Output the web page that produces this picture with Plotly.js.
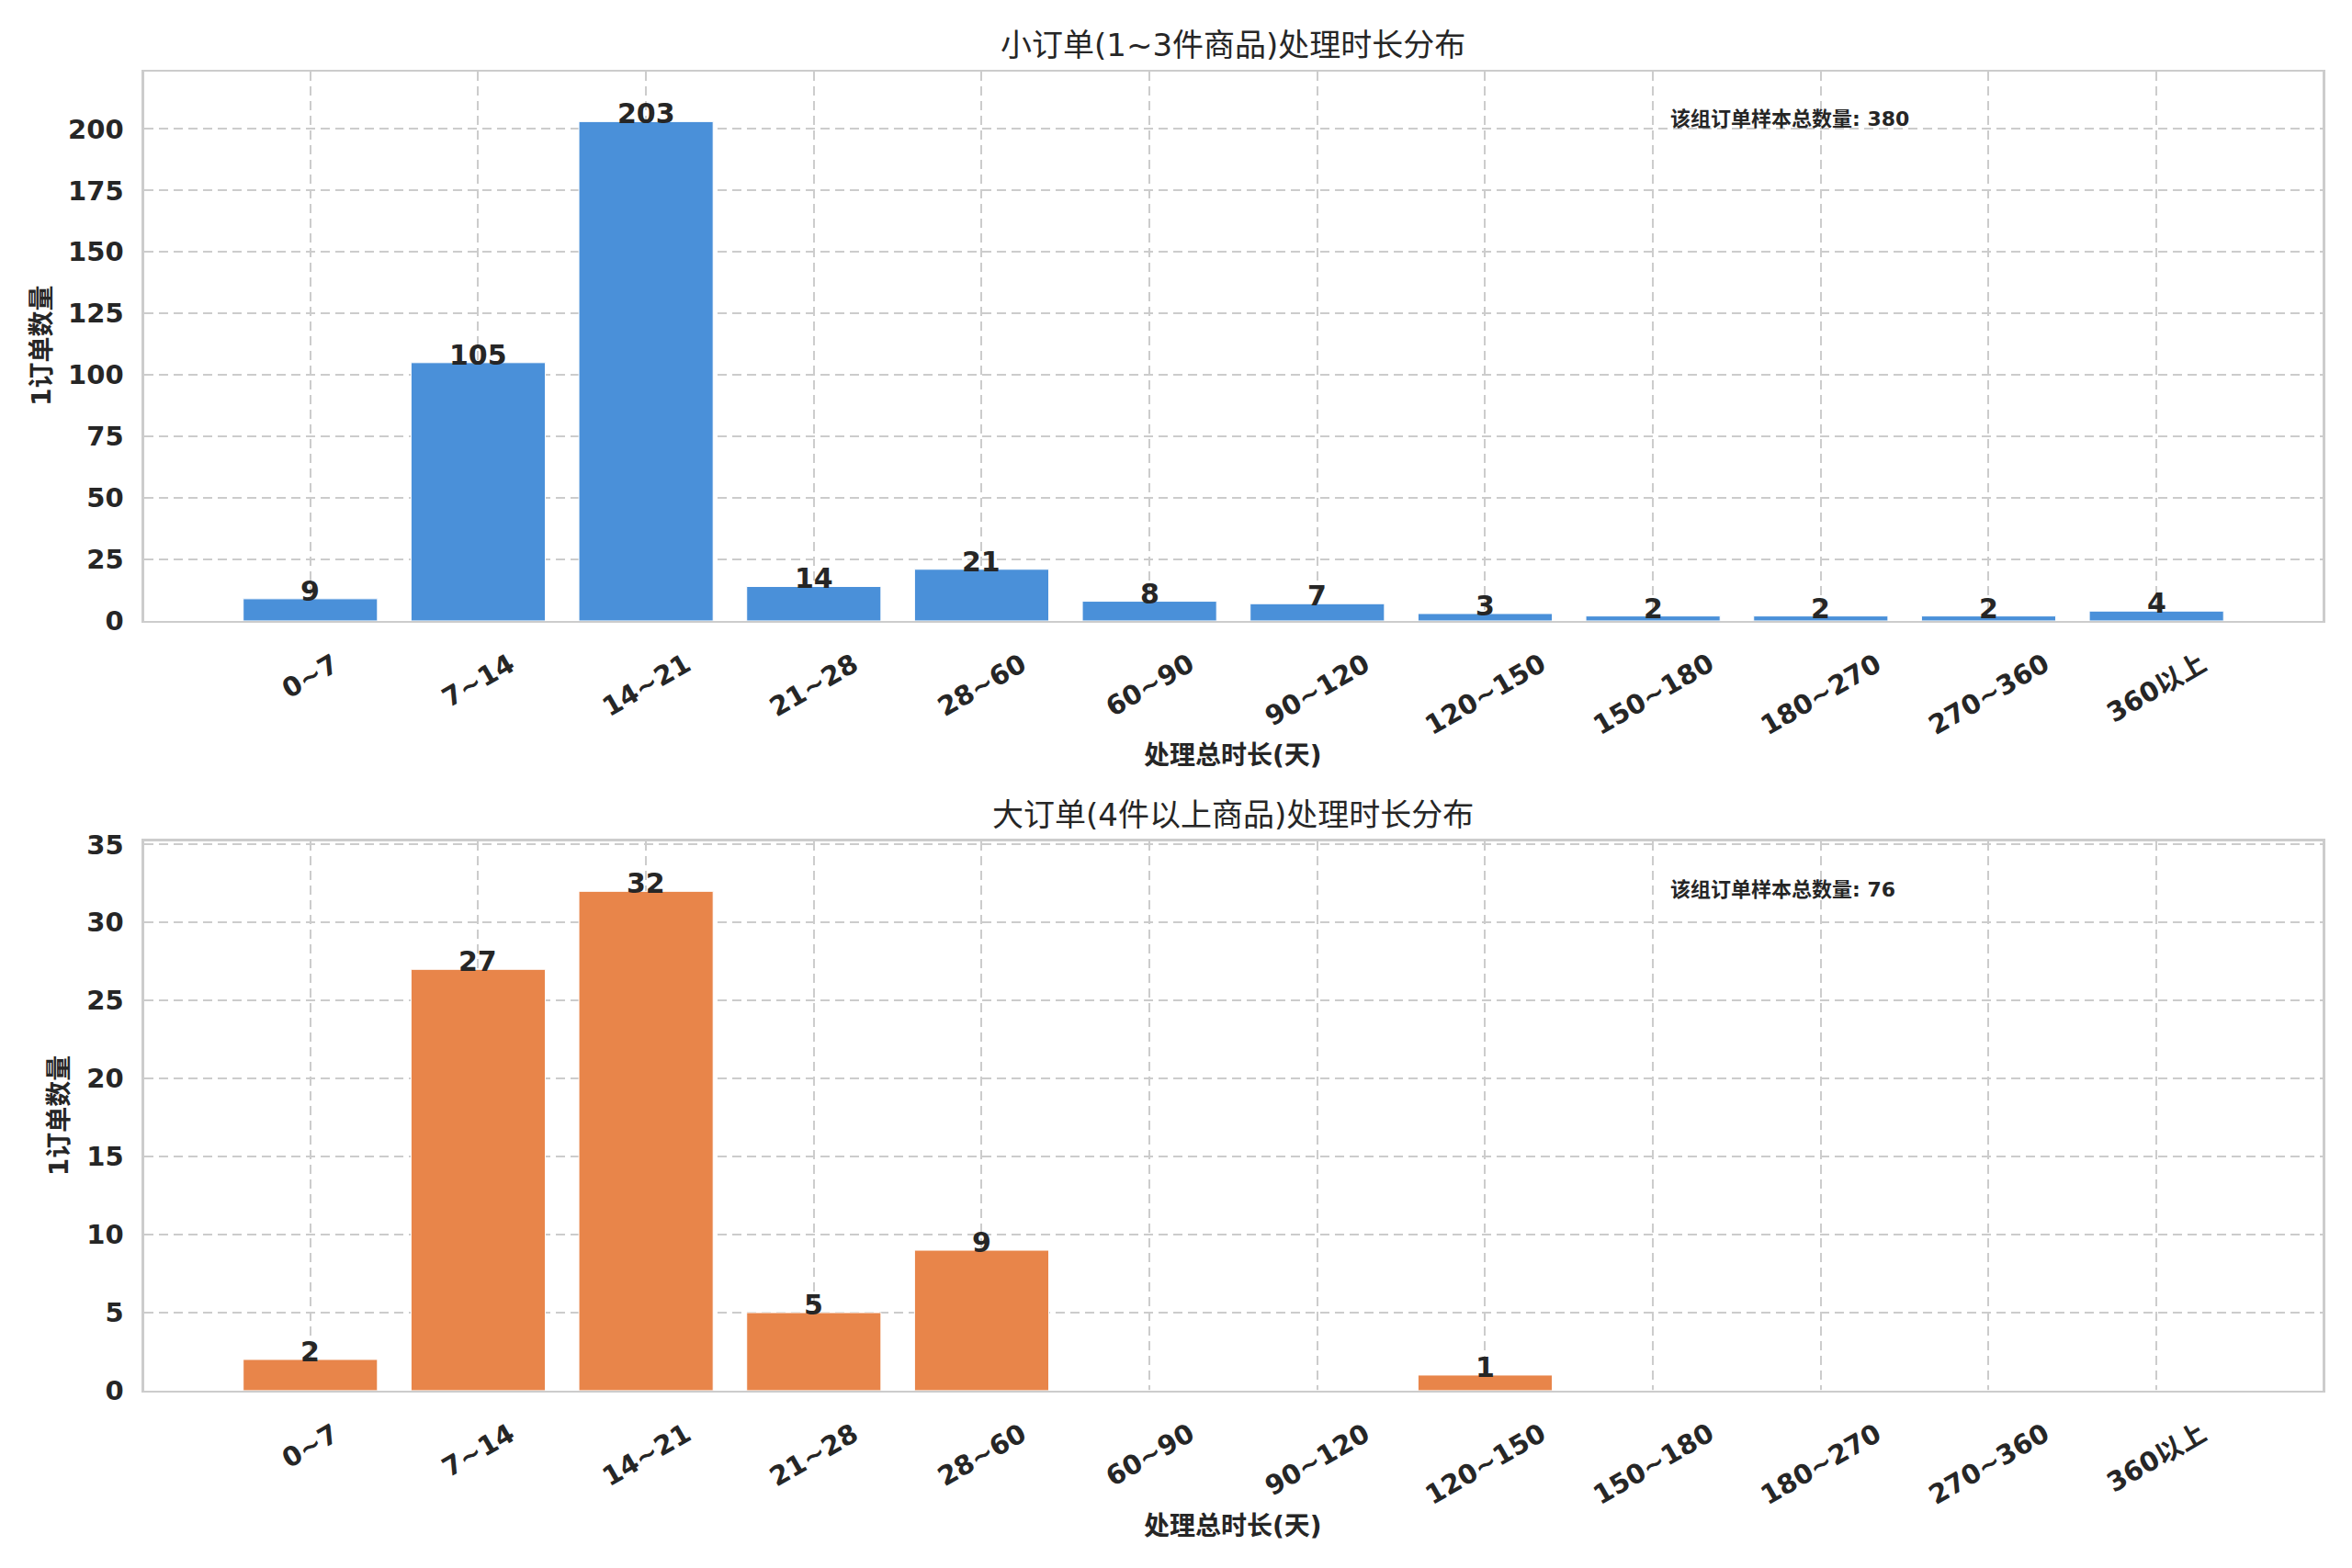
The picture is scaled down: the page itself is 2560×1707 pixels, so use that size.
<!DOCTYPE html>
<html>
<head>
<meta charset="utf-8">
<script src="https://cdn.plot.ly/plotly-3.0.1.min.js"></script>
<style>html,body{margin:0;padding:0;background:#fff;}#chart{width:2560px;height:1707px;}</style>
</head>
<body>
<div id="chart"></div>
<script>
const categories = ['0~7','7~14','14~21','21~28','28~60','60~90','90~120','120~150','150~180','180~270','270~360','360以上'];
const smallCounts = [9,105,203,14,21,8,7,3,2,2,2,4];
const largeCounts = [2,27,32,5,9,0,0,1,0,0,0,0];
const titleSmall = '小订单(1~3件商品)处理时长分布';
const titleLarge = '大订单(4件以上商品)处理时长分布';
const xLabel = '处理总时长(天)';
const yLabel = '1订单数量';
const totalLabel = '该组订单样本总数量';

const FONT = 'DejaVu Sans, Noto Sans CJK SC, sans-serif';
const TXT = '#262626';
const GRID = '#cccccc';
const sum = a => a.reduce((s, v) => s + v, 0);

const dom1 = [0.6040, 0.9543];
const dom2 = [0.1131, 0.4634];

function bar(vals, color, xa, ya) {
  return {
    type: 'bar', x: categories, y: vals, xaxis: xa, yaxis: ya,
    width: 0.8,
    marker: {color: color, line: {color: '#ffffff', width: 1}},
    hoverinfo: 'x+y', showlegend: false
  };
}

const data = [
  bar(smallCounts, '#4a90d9', 'x', 'y'),
  bar(largeCounts, '#e8854a', 'x2', 'y2')
];

function xax(anchor) {
  return {
    domain: [0.0613, 0.9875], anchor: anchor, type: 'category',
    range: [-0.99, 11.99], showticklabels: false, ticks: '',
    showgrid: true, gridcolor: GRID, gridwidth: 2, griddash: '10px,6px',
    showline: true, linecolor: GRID, linewidth: 2.5, mirror: true, zeroline: false,
    fixedrange: true
  };
}
function yax(anchor, dom, top, dtick) {
  return {
    domain: dom, anchor: anchor, range: [0, top], dtick: dtick, tick0: 0,
    showgrid: true, gridcolor: GRID, gridwidth: 2, griddash: '10px,6px',
    showline: true, linecolor: GRID, linewidth: 2.5, mirror: true, zeroline: false,
    ticks: '', ticklabelstandoff: 14,
    tickfont: {family: FONT, size: 29, color: TXT, weight: 'bold'},
    fixedrange: true
  };
}

const annotations = [];
function addTicks(xref, yBottom) {
  categories.forEach(c => {
    annotations.push({
      xref: xref, yref: 'paper', x: c, y: yBottom, yanchor: 'top', xanchor: 'center',
      yshift: -26, textangle: -30, showarrow: false, text: c,
      font: {family: FONT, size: 29, color: TXT, weight: 'bold'}
    });
  });
}
addTicks('x', dom1[0]);
addTicks('x2', dom2[0]);

function addValues(vals, xref, yref) {
  vals.forEach((v, i) => {
    if (v <= 0) return;
    annotations.push({
      xref: xref, yref: yref, x: categories[i], y: v, xanchor: 'center', yanchor: 'bottom',
      yshift: -11, showarrow: false, text: String(v),
      font: {family: FONT, size: 30, color: TXT, weight: 'bold'}
    });
  });
}
addValues(smallCounts, 'x', 'y');
addValues(largeCounts, 'x2', 'y2');

[[titleSmall, 0.9713], [titleLarge, 0.4804]].forEach(([t, y]) => {
  annotations.push({xref: 'paper', yref: 'paper', x: 0.5244, y: y, xanchor: 'center', yanchor: 'middle',
    showarrow: false, text: t, font: {family: FONT, size: 34, color: TXT}});
});
[0.5179, 0.0269].forEach(y => {
  annotations.push({xref: 'paper', yref: 'paper', x: 0.5244, y: y, xanchor: 'center', yanchor: 'middle',
    showarrow: false, text: xLabel, font: {family: FONT, size: 28, color: TXT, weight: 'bold'}});
});
[(dom1[0] + dom1[1]) / 2, (dom2[0] + dom2[1]) / 2].forEach((y, i) => {
  annotations.push({xref: 'paper', yref: 'paper', x: i === 0 ? 0.018 : 0.0255, y: y, xanchor: 'center', yanchor: 'middle',
    textangle: -90, showarrow: false, text: yLabel, font: {family: FONT, size: 28, color: TXT, weight: 'bold'}});
});
[[sum(smallCounts), 0.9244], [sum(largeCounts), 0.4329]].forEach(([n, y]) => {
  annotations.push({xref: 'paper', yref: 'paper', x: 0.7094, y: y, xanchor: 'left', yanchor: 'middle',
    showarrow: false, text: totalLabel + ': ' + n, font: {family: FONT, size: 22, color: TXT, weight: 'bold'}});
});

const layout = {
  width: 2560, height: 1707,
  margin: {l: 0, r: 0, t: 0, b: 0},
  paper_bgcolor: '#ffffff', plot_bgcolor: '#ffffff',
  font: {family: FONT, color: TXT},
  bargap: 0.2,
  xaxis: xax('y'), yaxis: yax('x', dom1, 223.3, 25),
  xaxis2: xax('y2'), yaxis2: yax('x2', dom2, 35.2, 5),
  annotations: annotations
};

Plotly.newPlot('chart', data, layout, {displayModeBar: false, staticPlot: true});
</script>
</body>
</html>
